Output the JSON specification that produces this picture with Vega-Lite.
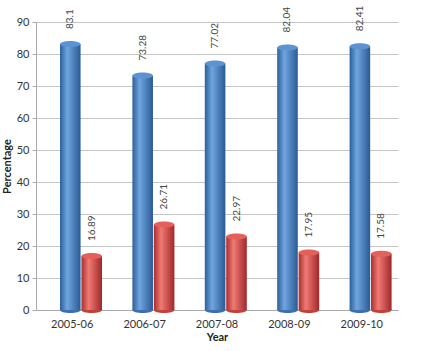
{
  "$schema": "https://vega.github.io/schema/vega-lite/v6.json",
  "width": 380,
  "height": 288,
  "autosize": {"type": "none"},
  "padding": {"left": 36, "top": 22, "right": 7, "bottom": 41},
  "background": "white",
  "config": {"view": {"stroke": null}, "font": "Lato"},
  "data": {"values": [
    {"year": "2005-06", "series": "S1", "value": 83.1, "label": "83.1"},
    {"year": "2006-07", "series": "S1", "value": 73.28, "label": "73.28"},
    {"year": "2007-08", "series": "S1", "value": 77.02, "label": "77.02"},
    {"year": "2008-09", "series": "S1", "value": 82.04, "label": "82.04"},
    {"year": "2009-10", "series": "S1", "value": 82.41, "label": "82.41"},
    {"year": "2005-06", "series": "S2", "value": 16.89, "label": "16.89"},
    {"year": "2006-07", "series": "S2", "value": 26.71, "label": "26.71"},
    {"year": "2007-08", "series": "S2", "value": 22.97, "label": "22.97"},
    {"year": "2008-09", "series": "S2", "value": 17.95, "label": "17.95"},
    {"year": "2009-10", "series": "S2", "value": 17.58, "label": "17.58"}
  ]},
  "encoding": {
    "x": {"field": "year", "type": "nominal", "scale": {"range": [0, 362], "paddingInner": 0, "paddingOuter": 0},
      "axis": {"title": "Year", "labelAngle": 0, "labelFontSize": 11, "labelColor": "#333", "titleFontSize": 11, "titleColor": "#222", "titleFontWeight": "bold", "titlePadding": 2, "domainColor": "#aaa", "ticks": false, "labelPadding": 8}},
    "xOffset": {"field": "series", "type": "nominal", "scale": {"domain": ["S1", "S2"], "range": [24, 66], "paddingInner": 0.04, "paddingOuter": 0}},
    "y": {"field": "value", "type": "quantitative", "scale": {"domain": [0, 90], "nice": false},
      "axis": {"title": "Percentage", "values": [0,10,20,30,40,50,60,70,80,90], "labelFontSize": 11, "labelColor": "#333", "titleFontSize": 11, "titleColor": "#222", "titleFontWeight": "bold", "titlePadding": 4, "gridColor": "#c4c4c4", "domainColor": "#aaa", "tickColor": "#aaa", "tickSize": 4, "labelPadding": 3}}
  },
  "layer": [
    {"mark": {"type": "point", "shape": "M-1,0A1,0.3,0,1,1,1,0A1,0.3,0,1,1,-1,0Z", "size": 420, "filled": true, "opacity": 1},
     "encoding": {"y": {"datum": 0}, "color": {"field": "series", "type": "nominal", "scale": {"domain": ["S1", "S2"], "range": ["#3a70b0", "#c2403c"]}, "legend": null}}},
    {"transform": [{"filter": "datum.series == 'S1'"}],
     "mark": {"type": "bar", "fill": {"gradient": "linear", "x1": 0, "x2": 1, "y1": 0, "y2": 0, "stops": [{"offset": 0, "color": "#2d5f99"}, {"offset": 0.35, "color": "#6fa5e0"}, {"offset": 1, "color": "#2a5a94"}]}}},
    {"transform": [{"filter": "datum.series == 'S2'"}],
     "mark": {"type": "bar", "fill": {"gradient": "linear", "x1": 0, "x2": 1, "y1": 0, "y2": 0, "stops": [{"offset": 0, "color": "#a82e2b"}, {"offset": 0.35, "color": "#f07a74"}, {"offset": 1, "color": "#a0282a"}]}}},
    {"mark": {"type": "point", "shape": "M-1,0A1,0.3,0,1,1,1,0A1,0.3,0,1,1,-1,0Z", "size": 420, "filled": true, "opacity": 1},
     "encoding": {"color": {"field": "series", "type": "nominal", "scale": {"domain": ["S1", "S2"], "range": ["#5c93d3", "#e4605b"]}, "legend": null}}},
    {"mark": {"type": "text", "angle": 270, "align": "left", "baseline": "middle", "dx": 15, "fontSize": 10, "color": "#444", "font": "Lato"},
     "encoding": {"text": {"field": "label"}}}
  ],
  "resolve": {"scale": {"color": "independent"}}
}
